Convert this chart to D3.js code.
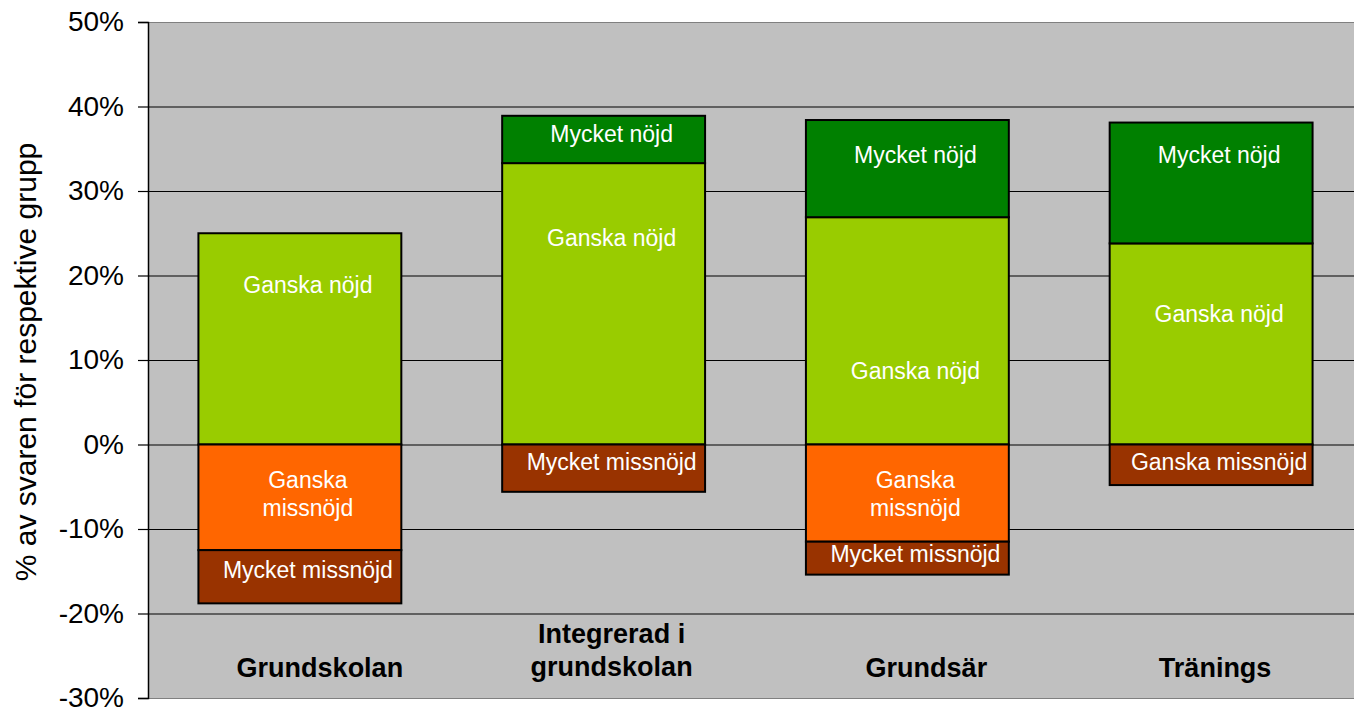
<!DOCTYPE html>
<html>
<head>
<meta charset="utf-8">
<script src="https://cdn.jsdelivr.net/npm/d3@7"></script>
<style>
  body { margin: 0; background: #fff; }
  svg { display: block; font-family: "Liberation Sans", Arial, sans-serif; }
</style>
</head>
<body>
<svg id="chart" width="1354" height="711"></svg>
<script>
// data (percent of answers)
const categories = ["Grundskolan", "Integrerad i grundskolan", "Grundsär", "Tränings"];
const categoryLines = [["Grundskolan"], ["Integrerad i", "grundskolan"], ["Grundsär"], ["Tränings"]];
const mycketNojd     = [0, 5.6, 11.5, 14.3];
const ganskaNojd     = [25, 33.3, 26.9, 23.8];
const ganskaMissnojd = [-12.5, 0, -11.5, -4.8];
const mycketMissnojd = [-6.3, -5.6, -3.9, 0];
const yTicks = [-30, -20, -10, 0, 10, 20, 30, 40, 50];

// where Excel put each data label (in % units, hand moved in the original)
const labelAt = {
  mycketNojd:     [null, 36.8, 34.3, 34.3],
  ganskaNojd:     [18.9, 24.5, 8.7, 15.5],
  ganskaMissnojd: [-5.9, null, -5.9, -2.1],
  mycketMissnojd: [-14.9, -2.1, -13, null]
};

const WIDTH = 1354;
const HEIGHT = 711;
const PLOT = { left: 148, right: 1363, top: 22, bottom: 698 };
const BG = "#C0C0C0";
const COLORS = {
  mycketNojd: "#008000",
  ganskaNojd: "#99CC00",
  ganskaMissnojd: "#FF6600",
  mycketMissnojd: "#993300"
};
const NAMES = {
  mycketNojd: ["Mycket nöjd"],
  ganskaNojd: ["Ganska nöjd"],
  ganskaMissnojd: ["Ganska", "missnöjd"],
  mycketMissnojd: ["Mycket missnöjd"]
};
// category labels were not quite centred in the original
const CAT_SHIFT = [20, 8, 19, 4];

const svg = d3.select("#chart");

const x = d3.scaleBand()
    .domain(categories)
    .range([PLOT.left, PLOT.right])
    .paddingInner(0.332)
    .paddingOuter(0.166);

const y = d3.scaleLinear()
    .domain([-30, 50])
    .range([PLOT.bottom, PLOT.top]);

// plot background
svg.append("rect")
    .attr("x", PLOT.left)
    .attr("y", PLOT.top)
    .attr("width", PLOT.right - PLOT.left)
    .attr("height", PLOT.bottom - PLOT.top)
    .attr("fill", BG);

// grid lines
svg.append("g")
    .selectAll("line")
    .data(yTicks)
    .join("line")
    .attr("x1", PLOT.left)
    .attr("x2", PLOT.right)
    .attr("y1", d => y(d) + 0.5)
    .attr("y2", d => y(d) + 0.5)
    .attr("stroke", d => (d === 50 || d === -30) ? "#808080" : "#000")
    .attr("stroke-width", 1.2);

// stack: positives go up from 0, negatives go down
const order = ["ganskaNojd", "mycketNojd", "ganskaMissnojd", "mycketMissnojd"];
const series = { mycketNojd, ganskaNojd, ganskaMissnojd, mycketMissnojd };
const segments = [];
categories.forEach((cat, i) => {
    let pos = 0, neg = 0;
    order.forEach(key => {
        const v = series[key][i];
        if (!v) return;
        let y0, y1;
        if (v > 0) { y0 = pos; y1 = pos + v; pos = y1; }
        else { y0 = neg; y1 = neg + v; neg = y1; }
        segments.push({ cat, i, key, y0, y1 });
    });
});

// Tränings' "Ganska missnöjd" was coloured brown in the original
const fillOf = d => (d.key === "ganskaMissnojd" && d.i === 3) ? COLORS.mycketMissnojd : COLORS[d.key];

svg.append("g")
    .selectAll("rect")
    .data(segments)
    .join("rect")
    .attr("x", d => x(d.cat))
    .attr("width", x.bandwidth())
    .attr("y", d => y(Math.max(d.y0, d.y1)))
    .attr("height", d => Math.abs(y(d.y0) - y(d.y1)))
    .attr("fill", fillOf)
    .attr("stroke", "#000")
    .attr("stroke-width", 2);

// segment labels
const labels = svg.append("g")
    .attr("fill", "#fff")
    .attr("font-size", 23)
    .attr("text-anchor", "middle");

segments.forEach(d => {
    const at = labelAt[d.key][d.i];
    if (at === null) return;
    let lines = NAMES[d.key];
    if (d.key === "ganskaMissnojd" && d.i === 3) lines = ["Ganska missnöjd"];
    const cx = x(d.cat) + x.bandwidth() / 2 + 8;
    const lineH = 28;
    const top = y(at) - (lines.length - 1) * lineH / 2;
    lines.forEach((t, k) => {
        labels.append("text")
            .attr("x", cx)
            .attr("y", top + k * lineH)
            .attr("dy", "0.35em")
            .text(t);
    });
});

// y axis
const yAxis = svg.append("g")
    .attr("transform", `translate(${PLOT.left},0)`)
    .call(d3.axisLeft(y).tickValues(yTicks).tickFormat(d => d + "%").tickSize(10).tickPadding(14));
yAxis.select(".domain").attr("stroke", "#000").attr("stroke-width", 1.5);
yAxis.selectAll(".tick line").attr("stroke", "#000").attr("stroke-width", 1.2);
yAxis.selectAll(".tick text")
    .attr("font-size", 28)
    .attr("fill", "#000")
    .attr("font-family", "Liberation Sans, Arial, sans-serif");

// y axis title
svg.append("text")
    .attr("transform", `translate(25,362) rotate(-90)`)
    .attr("text-anchor", "middle")
    .attr("dy", "0.35em")
    .attr("font-size", 30)
    .text("% av svaren för respektive grupp");

// category labels inside the plot, near the bottom
const catG = svg.append("g")
    .attr("font-size", 27)
    .attr("font-weight", "bold")
    .attr("text-anchor", "middle");

categories.forEach((cat, i) => {
    const lines = categoryLines[i];
    const cx = x(cat) + x.bandwidth() / 2 + CAT_SHIFT[i];
    const lineH = 33;
    const base = lines.length === 1 ? 668 : 650 - lineH / 2;
    lines.forEach((t, k) => {
        catG.append("text")
            .attr("x", cx)
            .attr("y", base + k * lineH)
            .attr("dy", "0.35em")
            .text(t);
    });
});
</script>
</body>
</html>
